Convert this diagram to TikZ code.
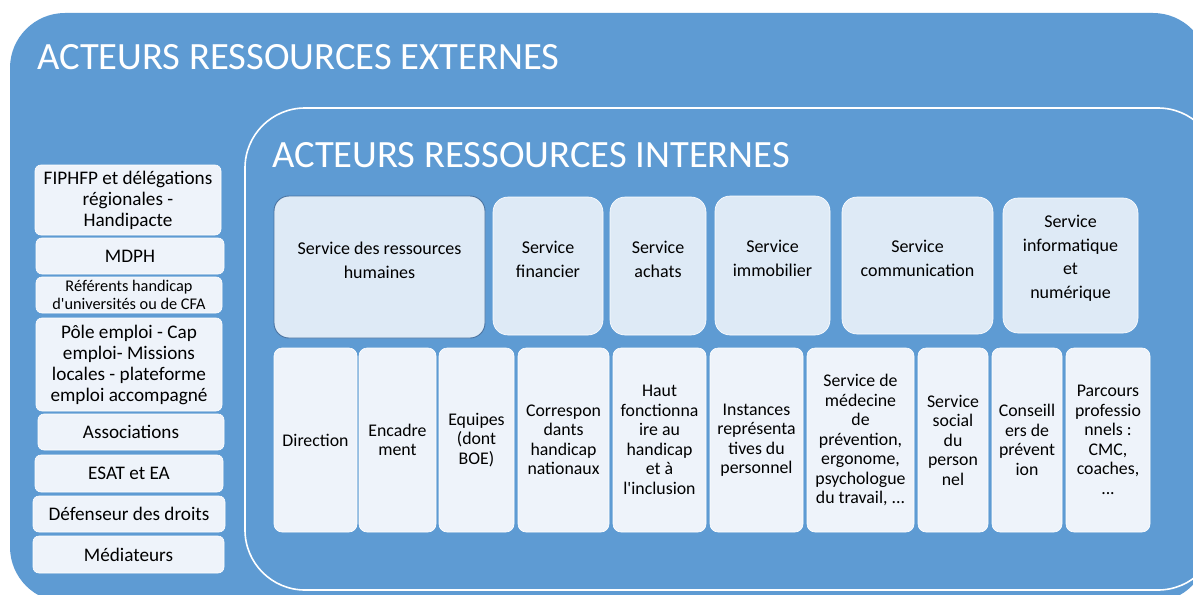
\documentclass[tikz,border=0pt]{standalone}
\usepackage{fontspec}
\setmainfont{Carlito}[Ligatures=TeXOff]
\newfontfamily\titlefont{Carlito}
\definecolor{outerblue}{HTML}{5E9BD3}
\definecolor{topfill}{HTML}{DEEAF6}
\definecolor{lowfill}{HTML}{EEF3FA}
\definecolor{rhborder}{HTML}{4A73A0}
\tikzset{
  frame/.style={fill=outerblue, rounded corners=55pt},
  title/.style={text=white, font=\titlefont\fontsize{38.6}{42}\selectfont, anchor=west, inner sep=0pt},
  lbox/.style={fill=lowfill, draw=white, line width=0.6pt, rounded corners=6pt, inner sep=0pt},
  tbox/.style={fill=topfill, draw=white, line width=0.6pt, rounded corners=15pt, inner sep=0pt},
  bbox/.style={fill=lowfill, draw=white, line width=0.6pt, rounded corners=8pt, inner sep=0pt},
  ltxt/.style={align=center, font=\fontsize{19.2}{21}\selectfont, inner sep=0pt},
  ttxt/.style={align=center, font=\fontsize{18}{23.5}\selectfont, inner sep=0pt},
  btxt/.style={align=center, font=\fontsize{17.8}{19.5}\selectfont, inner sep=0pt},
}
\begin{document}
\begin{tikzpicture}[x=1pt,y=-1pt]
\useasboundingbox (0,0) rectangle (1193,594);
\clip (0,0) rectangle (1193,594);
\fill[white] (0,0) rectangle (1193,594);
% outer frame
\path[frame] (10,13) rectangle (1208,602);
\node[title] (extitle) at (37,57) {ACTEURS RESSOURCES EXTERNES};
% inner frame
\path[frame, draw=white, line width=1.6pt, rounded corners=60pt] (245,108) rectangle (1218,590);
\node[title] (intitle) at (272,155) {ACTEURS RESSOURCES INTERNES};
% left column
\node[lbox, minimum width=186pt, minimum height=70pt] (fip) at (128,200) {};
\node[ltxt] (fipt) at (fip) {FIPHFP et délégations\\régionales -\\Handipacte};
\node[lbox, minimum width=188pt, minimum height=36pt] (mdph) at (130,256) {};
\node[ltxt] (mdpht) at (mdph) {MDPH};
\node[lbox, minimum width=186pt, minimum height=36pt] (ref) at (129,295) {};
\node[align=center, font=\fontsize{16.3}{18}\selectfont, inner sep=0pt] (reft) at (ref) {Référents handicap\\d'universités ou de CFA};
\node[lbox, minimum width=186pt, minimum height=93pt] (pole) at (129,364.5) {};
\node[ltxt] (polet) at (pole) {Pôle emploi - Cap\\emploi- Missions\\locales - plateforme\\emploi accompagné};
\node[lbox, minimum width=186pt, minimum height=36pt] (asso) at (131,432) {};
\node[ltxt] (assot) at (asso) {Associations};
\node[lbox, minimum width=188pt, minimum height=37pt] (esat) at (129,473.5) {};
\node[ltxt] (esatt) at (esat) {ESAT et EA};
\node[lbox, minimum width=192pt, minimum height=36pt] (def) at (129,514) {};
\node[ltxt] (deft) at (def) {Défenseur des droits};
\node[lbox, minimum width=191pt, minimum height=37pt] (med) at (128.5,554.5) {};
\node[ltxt] (medt) at (med) {Médiateurs};
% top row
\node[tbox, draw=rhborder, line width=0.9pt, minimum width=211pt, minimum height=142pt] (rh) at (379.5,267) {};
\node[ttxt] (rht) at (379.5,260.5) {Service des ressources\\humaines};
\node[tbox, minimum width=110pt, minimum height=138pt] (fin) at (548,266) {};
\node[ttxt] (fint) at (548,259.5) {Service\\financier};
\node[tbox, minimum width=96pt, minimum height=138pt] (ach) at (658,266) {};
\node[ttxt] (acht) at (658,259.5) {Service\\achats};
\node[tbox, minimum width=115pt, minimum height=139pt] (imm) at (772.5,265.5) {};
\node[ttxt] (immt) at (772.5,258.5) {Service\\immobilier};
\node[tbox, minimum width=151pt, minimum height=137pt] (com) at (917.5,265.5) {};
\node[ttxt] (comt) at (917.5,258.5) {Service\\communication};
\node[tbox, minimum width=135pt, minimum height=135pt] (inf) at (1070.5,265.5) {};
\node[ttxt] (inft) at (1070.5,258.5) {Service\\informatique\\et\\numérique};
% bottom row
\node[bbox, minimum width=83pt, minimum height=184pt] (dir) at (315.5,440) {};
\node[btxt] (dirt) at (dir) {Direction};
\node[bbox, minimum width=77pt, minimum height=184pt] (enc) at (397.5,440) {};
\node[btxt] (enct) at (enc) {Encadre\\ment};
\node[bbox, minimum width=75pt, minimum height=184pt] (equ) at (476.5,440) {};
\node[btxt] (equt) at (equ) {Equipes\\(dont\\BOE)};
\node[bbox, minimum width=91pt, minimum height=184pt] (cor) at (563.5,440) {};
\node[btxt] (cort) at (cor) {Correspon\\dants\\handicap\\nationaux};
\node[bbox, minimum width=93pt, minimum height=184pt] (hau) at (659.5,440) {};
\node[btxt] (haut) at (hau) {Haut\\fonctionna\\ire au\\handicap\\et à\\l'inclusion};
\node[bbox, minimum width=93pt, minimum height=184pt] (ins) at (756.5,440) {};
\node[btxt] (inst) at (ins) {Instances\\représenta\\tives du\\personnel};
\node[bbox, minimum width=107pt, minimum height=184pt] (mdc) at (860.5,440) {};
\node[btxt] (mdct) at (mdc) {Service de\\médecine\\de\\prévention,\\ergonome,\\psychologue\\du travail, ...};
\node[bbox, minimum width=70pt, minimum height=184pt] (soc) at (953,440) {};
\node[btxt] (soct) at (soc) {Service\\social\\du\\person\\nel};
\node[bbox, minimum width=70pt, minimum height=184pt] (cons) at (1027,440) {};
\node[btxt] (const) at (cons) {Conseill\\ers de\\prévent\\ion};
\node[bbox, minimum width=84pt, minimum height=184pt] (par) at (1108,440) {};
\node[btxt] (part) at (par) {Parcours\\professio\\nnels :\\CMC,\\coaches,\\...};
\end{tikzpicture}
\end{document}
